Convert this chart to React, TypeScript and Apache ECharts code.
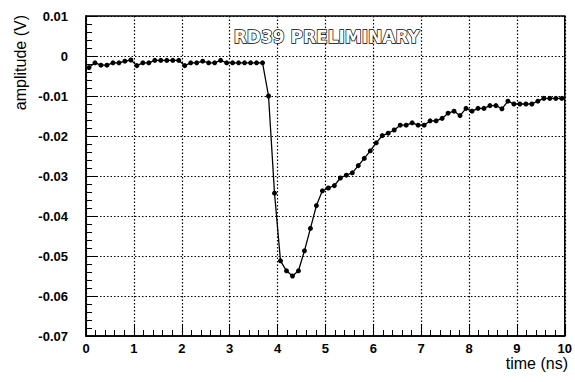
import React, { useEffect, useRef } from "react";
import * as echarts from "echarts";

// Sampling grid of the digitised pulse (ns)
const SAMPLE_START = 0.0625;
const SAMPLE_STEP = 0.125;

// Amplitude of each sample (V)
const amplitudes: number[] = [
  -0.0029, -0.0017, -0.0023, -0.0023, -0.0017, -0.0017, -0.0013, -0.001,
  -0.0024, -0.0017, -0.0017, -0.0011, -0.0011, -0.0011, -0.0011, -0.0011,
  -0.0024, -0.0017, -0.0017, -0.0013, -0.0017, -0.0017, -0.0011, -0.0017,
  -0.0017, -0.0017, -0.0017, -0.0017, -0.0017, -0.0017,
  -0.01, -0.0343, -0.0512, -0.0537, -0.055, -0.0537, -0.0487, -0.0431,
  -0.0374, -0.0337, -0.033, -0.0324, -0.0305, -0.0298, -0.0292, -0.0274,
  -0.0256, -0.0237, -0.0217, -0.0199, -0.0193, -0.0185, -0.0173, -0.0173,
  -0.0167, -0.0173, -0.0173, -0.0162, -0.0162, -0.0156, -0.0143, -0.0138,
  -0.0149, -0.0131, -0.0138, -0.0131, -0.0131, -0.0124, -0.0124, -0.0132,
  -0.0113, -0.012, -0.012, -0.012, -0.012, -0.0113, -0.0106, -0.0106,
  -0.0106, -0.0106,
];

const times: number[] = amplitudes.map((_, i) => SAMPLE_START + SAMPLE_STEP * i);

const X_RANGE = [0, 10];
const Y_RANGE = [-0.07, 0.01];

const TITLE = "RD39 PRELIMINARY";
const X_NAME = "time (ns)";
const Y_NAME = "amplitude (V)";

const FONT = "'Liberation Sans', Arial, Helvetica, sans-serif";

export default function App() {
  const ref = useRef<HTMLDivElement>(null);

  useEffect(() => {
    if (!ref.current) return;
    const chart = echarts.init(ref.current, null, { renderer: "svg" });

    const tickLabel = {
      color: "#000",
      fontFamily: FONT,
      fontWeight: "bold" as const,
      fontSize: 13,
    };

    const dotted = { color: "#000", width: 1.2, type: [1.5, 2] as number[] };

    chart.setOption({
      animation: false,
      backgroundColor: "#fff",
      grid: {
        left: 86,
        top: 16,
        right: 9,
        bottom: 46,
        show: true,
        borderColor: "#000",
        borderWidth: 1.5,
        backgroundColor: "transparent",
      },
      xAxis: {
        type: "value",
        min: X_RANGE[0],
        max: X_RANGE[1],
        interval: 1,
        axisLine: { show: true, onZero: false, lineStyle: { color: "#000", width: 1.5 } },
        axisTick: { show: true, inside: true, length: 12, lineStyle: { color: "#000", width: 1 } },
        minorTick: { show: true, splitNumber: 5, length: 6, lineStyle: { color: "#000", width: 1 } },
        splitLine: { show: true, lineStyle: dotted },
        axisLabel: { ...tickLabel, margin: 6, formatter: (v: number) => String(Math.round(v)) },
      },
      yAxis: {
        type: "value",
        min: Y_RANGE[0],
        max: Y_RANGE[1],
        interval: 0.01,
        axisLine: { show: true, onZero: false, lineStyle: { color: "#000", width: 1.5 } },
        axisTick: { show: true, inside: true, length: 12, lineStyle: { color: "#000", width: 1 } },
        minorTick: { show: true, splitNumber: 5, length: 6, lineStyle: { color: "#000", width: 1 } },
        splitLine: { show: true, lineStyle: dotted },
        axisLabel: {
          ...tickLabel,
          margin: 18,
          formatter: (v: number) => {
            const r = Math.round(v * 100) / 100;
            return r === 0 ? "0" : String(r);
          },
        },
      },
      series: [
        {
          type: "line",
          data: times.map((t, i) => [t, amplitudes[i]]),
          symbol: "circle",
          symbolSize: 5,
          showSymbol: true,
          itemStyle: { color: "#000" },
          lineStyle: { color: "#000", width: 1.3 },
          z: 5,
        },
      ],
      graphic: [
        {
          type: "text",
          left: 233,
          top: 28,
          z: 10,
          style: {
            text: TITLE,
            fontFamily: "'DejaVu Sans', sans-serif",
            fontWeight: "bold",
            fontSize: 17,
            fill: "#fff",
            stroke: "#000",
            lineWidth: 1.4,
          },
        },
        {
          type: "text",
          x: 568,
          y: 355,
          style: {
            text: X_NAME,
            fontFamily: FONT,
            fontSize: 16,
            fill: "#000",
            align: "right",
            verticalAlign: "top",
          },
        },
        {
          type: "text",
          x: 20,
          y: 15,
          rotation: Math.PI / 2,
          style: {
            text: Y_NAME,
            fontFamily: FONT,
            fontSize: 16,
            fill: "#000",
            align: "right",
            verticalAlign: "middle",
          },
        },
      ],
    });

    return () => chart.dispose();
  }, []);

  return (
    <div
      ref={ref}
      style={{ position: "fixed", left: 0, top: 0, width: 575, height: 382, background: "#fff" }}
    />
  );
}
